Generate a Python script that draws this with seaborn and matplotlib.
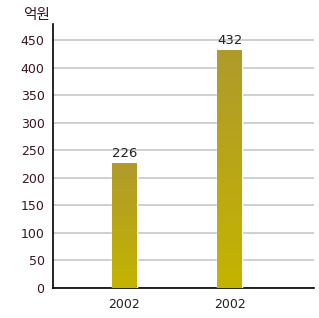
import numpy as np
import pandas as pd
import matplotlib
matplotlib.use("Agg")
import matplotlib.pyplot as plt
import seaborn as sns

# datos
years = ["2002", "2002 "]
values = [226, 432]
labels = ["226", "432"]
yticks = [0, 50, 100, 150, 200, 250, 300, 350, 400, 450]

df = pd.DataFrame({"year": years, "value": values})

sns.set_style("white")
plt.rcParams["font.family"] = ["Noto Sans CJK KR", "DejaVu Sans"]

fig = plt.figure(figsize=(3.19, 3.18), dpi=100)
ax = fig.add_axes([0.166, 0.0943, 0.818, 0.830])

sns.barplot(data=df, x="year", y="value", width=0.237, color="#bcab10", ax=ax, zorder=3)

# degradado en cada barra
grad = np.linspace(0, 1, 256).reshape(-1, 1)
cmap = matplotlib.colors.LinearSegmentedColormap.from_list("g", ["#c4b400", "#b09a2c"])
for bar in ax.patches:
    x0, y0 = bar.get_x(), bar.get_y()
    w, h = bar.get_width(), bar.get_height()
    im = ax.imshow(grad, extent=[x0, x0 + w, y0, y0 + h], origin="lower",
                   cmap=cmap, aspect="auto", zorder=4)
    im.set_clip_path(bar)
    bar.set_facecolor("none")

for i, (v, t) in enumerate(zip(values, labels)):
    ax.text(i, v + 6, t, ha="center", va="bottom", fontsize=9.5,
            color="#222222", family="DejaVu Sans", zorder=5)

ax.set_xlim(-0.678, 1.796)
ax.set_ylim(0, 479)
ax.set_yticks(yticks)
ax.set_yticklabels([str(t) for t in yticks], color="#3a1426", fontsize=9, family="DejaVu Sans")
ax.set_xticks([0, 1])
ax.set_xticklabels(["2002", "2002"], color="#222222", fontsize=9, family="DejaVu Sans")
ax.tick_params(axis="both", length=0, pad=6)
ax.tick_params(axis="x", pad=7)
ax.set_xlabel("")
ax.set_ylabel("")

ax.yaxis.grid(True, color="#cccccc", linewidth=1.3, zorder=0)
ax.set_axisbelow(True)
for s in ["top", "right"]:
    ax.spines[s].set_visible(False)
ax.spines["left"].set_color("black")
ax.spines["bottom"].set_color("black")
ax.spines["left"].set_linewidth(1.2)
ax.spines["bottom"].set_linewidth(1.2)

fig.text(23 / 319, 1 - 15 / 318, "억원", ha="left", va="center", fontsize=10.5,
         color="#3a1426", family="Noto Sans CJK KR")

fig.savefig("out.png", dpi=100)
